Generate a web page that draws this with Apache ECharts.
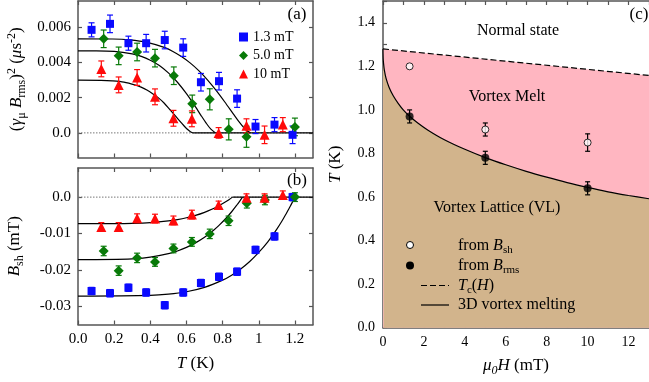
<!DOCTYPE html>
<html>
<head>
<meta charset="utf-8">
<script src="https://cdn.jsdelivr.net/npm/echarts@6/dist/echarts.min.js"></script>
<style>
html, body { margin: 0; padding: 0; background: #fff; }
#chart { width: 649px; height: 382px; }
</style>
</head>
<body>
<div id="chart"></div>
<script>
// ---- panel (a): (gamma_mu B_rms)^2 vs T ----
const tBlue = [0.075, 0.177, 0.279, 0.377, 0.48, 0.582, 0.68, 0.78, 0.88, 0.982, 1.087, 1.187]
const rmsBlue = [0.00586, 0.0062, 0.0051, 0.0051, 0.00528, 0.00485, 0.00288, 0.00294, 0.00195, 0.00036, 0.00047, -0.00011]
const rmsBlueErr = [0.0004, 0.0005, 0.0004, 0.0005, 0.0005, 0.0005, 0.0005, 0.0005, 0.0005, 0.0004, 0.0004, 0.0005]
const tGreenA = [0.142, 0.225, 0.327, 0.426, 0.53, 0.632, 0.729, 0.834, 0.932, 1.2]
const rmsGreen = [0.00535, 0.00438, 0.0046, 0.00425, 0.00325, 0.00165, 0.00191, 0.0002, -0.00022, 0.00034]
const rmsGreenErr = [0.0005, 0.0005, 0.0005, 0.0005, 0.0005, 0.0005, 0.0006, 0.0006, 0.0006, 0.0005]
const tRed = [0.129, 0.225, 0.327, 0.426, 0.528, 0.63, 0.778, 0.932, 1.032, 1.133]
const rmsRed = [0.00364, 0.00273, 0.00315, 0.00205, 0.00083, 0.0008, 0.0, 0.0004, -0.00011, 0.00047]
const rmsRedErr = [0.00045, 0.00045, 0.00045, 0.00045, 0.00045, 0.00045, 0.0003, 0.0004, 0.0005, 0.0004]

// fit curves (a)
const fitAtBlue = [0, 0.191, 0.286, 0.382, 0.477, 0.525, 0.572, 0.62, 0.668, 0.716, 0.763, 0.811, 0.859, 0.887, 0.916, 0.935, 0.954]
const fitAblue = [0.00535, 0.00534, 0.00529, 0.00515, 0.00486, 0.00463, 0.00434, 0.00398, 0.00354, 0.00302, 0.00243, 0.00177, 0.00108, 0.00068, 0.00031, 0.00012, 0]
const fitAtGreen = [0, 0.1, 0.2, 0.3, 0.35, 0.4, 0.45, 0.5, 0.55, 0.6, 0.65, 0.68, 0.71, 0.735, 0.76]
const fitAgreen = [0.00466, 0.00466, 0.00463, 0.00449, 0.00435, 0.00413, 0.00383, 0.00341, 0.00288, 0.00223, 0.00148, 0.001, 0.00054, 0.00021, 0]
const fitAtRed = [0, 0.127, 0.19, 0.254, 0.318, 0.349, 0.381, 0.413, 0.445, 0.476, 0.508, 0.54, 0.572, 0.591, 0.61, 0.622, 0.635]
const fitAred = [0.003, 0.00299, 0.00296, 0.00289, 0.00272, 0.0026, 0.00244, 0.00223, 0.00199, 0.0017, 0.00133, 0.00095, 0.00057, 0.00035, 0.00016, 0.00006, 0]

// ---- panel (b): B_sh vs T ----
const tGreenB = [0.142, 0.225, 0.327, 0.426, 0.528, 0.63, 0.729, 0.833, 0.934, 1.034, 1.2]
const shBlue = [-0.0258, -0.0264, -0.0249, -0.0262, -0.0297, -0.0262, -0.0236, -0.0219, -0.0205, -0.0145, -0.0108, 0.0]
const shBlueErr = [0.001, 0.001, 0.001, 0.001, 0.001, 0.001, 0.001, 0.001, 0.001, 0.001, 0.001, 0.001]
const shGreen = [-0.0148, -0.0202, -0.0167, -0.0178, -0.0141, -0.0123, -0.0101, -0.0065, -0.0017, -0.0008, 0.0]
const shGreenErr = [0.0013, 0.0013, 0.0013, 0.0012, 0.0012, 0.0012, 0.0013, 0.0013, 0.0013, 0.0013, 0.0012]
const shRed = [-0.0082, -0.0082, -0.0058, -0.0059, -0.0064, -0.0048, -0.0022, -0.0002, -0.0002, 0.0006]
const shRedErr = [0.0012, 0.0012, 0.0012, 0.0012, 0.0012, 0.0012, 0.0011, 0.0011, 0.0011, 0.0011]

// fit curves (b)
const fitBtRed = [0, 0.2, 0.3, 0.4, 0.5, 0.55, 0.6, 0.65, 0.7, 0.74, 0.78, 0.81, 0.835, 0.855]
const fitBred = [-0.0073, -0.00729, -0.00722, -0.00701, -0.00655, -0.00618, -0.00568, -0.00502, -0.00418, -0.00335, -0.00236, -0.0015, -0.0007, 0]
const fitBtGreen = [0, 0.3, 0.4, 0.5, 0.55, 0.6, 0.65, 0.7, 0.75, 0.78, 0.82, 0.85, 0.88, 0.895, 0.91]
const fitBgreen = [-0.0172, -0.01697, -0.0165, -0.01554, -0.01479, -0.01382, -0.01257, -0.01103, -0.00911, -0.00778, -0.00574, -0.00402, -0.0021, -0.00108, 0]
const fitBtBlue = [0, 0.4, 0.5, 0.6, 0.7, 0.8, 0.85, 0.9, 0.95, 1.0, 1.05, 1.1, 1.13, 1.15, 1.175, 1.2]
const fitBblue = [-0.0272, -0.027, -0.02667, -0.026, -0.0248, -0.02282, -0.02144, -0.01975, -0.01769, -0.0152, -0.01229, -0.0088, -0.00644, -0.0047, -0.00245, 0]

const zeroT = [0, 1.3]
const zeroV = [0, 0]
const zeroSolidA = [0.635, 1.3]
const zeroSolidB = [0.855, 1.3]

// ---- panel (c): phase diagram ----
const fieldPts = [1.3, 5, 10]
const tmRms = [0.97, 0.78, 0.64]
const tmRmsErr = [0.03, 0.03, 0.03]
const tmSh = [1.2, 0.91, 0.85]
const tmShErr = [0, 0.03, 0.04]
const meltH = [0, 0.01, 0.03, 0.07, 0.15, 0.3, 0.5, 0.75, 1, 1.3, 1.7, 2.2, 3, 4, 5, 6, 7, 8, 9, 10, 11, 12, 13]
const meltT = [1.28, 1.235, 1.21, 1.18, 1.145, 1.103, 1.065, 1.029, 0.999, 0.971, 0.94, 0.907, 0.863, 0.819, 0.781, 0.748, 0.718, 0.691, 0.666, 0.644, 0.624, 0.607, 0.592]
const tcH = [0, 13]
const tcT = [1.28, 1.158]

// ticks
const tTicks = [0, 0.2, 0.4, 0.6, 0.8, 1.0, 1.2]
const tTickLabels = ['0.0', '0.2', '0.4', '0.6', '0.8', '1', '1.2']
const rmsTicks = [0, 0.002, 0.004, 0.006]
const rmsTickLabels = ['0.0', '0.002', '0.004', '0.006']
const shTicks = [-0.03, -0.02, -0.01, 0]
const shTickLabels = ['-0.03', '-0.02', '-0.01', '0.0']
const hTicks = [0, 2, 4, 6, 8, 10, 12]
const hMinorTicks = [0, 1, 2, 3, 4, 5, 6, 7, 8, 9, 10, 11, 12, 13]
const cTicks = [0, 0.2, 0.4, 0.6, 0.8, 1.0, 1.2, 1.4]
const cMinorTicks = [0, 0.1, 0.2, 0.3, 0.4, 0.5, 0.6, 0.7, 0.8, 0.9, 1.0, 1.1, 1.2, 1.3, 1.4, 1.5]

const BLUE = '#0a0aff'
const GREEN = '#087a08'
const RED = '#ff0a0a'
const FONT = 'Liberation Serif'
const AXC = '#555'

const rich = {
    n: { fontFamily: FONT, fontSize: 17, lineHeight: 22, color: '#000' },
    i: { fontFamily: FONT, fontSize: 17, lineHeight: 22, fontStyle: 'italic', color: '#000' },
    s: { fontFamily: FONT, fontSize: 12, lineHeight: 12, verticalAlign: 'bottom', color: '#000' },
    si: { fontFamily: FONT, fontSize: 12, lineHeight: 12, verticalAlign: 'bottom', fontStyle: 'italic', color: '#000' },
    p: { fontFamily: FONT, fontSize: 12, lineHeight: 12, verticalAlign: 'top', color: '#000' }
}
const richC = {
    n: { fontFamily: FONT, fontSize: 16, lineHeight: 20, color: '#000' },
    i: { fontFamily: FONT, fontSize: 16, lineHeight: 20, fontStyle: 'italic', color: '#000' },
    s: { fontFamily: FONT, fontSize: 11, lineHeight: 11, verticalAlign: 'bottom', color: '#000' }
}

function pick(vals, labels) {
    return v => {
        for (let i = 0; i < vals.length; i++) if (Math.abs(vals[i] - v) < 1e-9) return labels[i]
        return ''
    }
}

function axis(opts) {
    const o = {
        type: 'value',
        gridIndex: opts.grid,
        position: opts.pos,
        min: opts.min,
        max: opts.max,
        splitLine: { show: false },
        axisLine: { show: true, onZero: false, lineStyle: { color: AXC, width: 1.5 } },
        axisTick: { show: true, inside: true, length: 4, customValues: opts.ticks, lineStyle: { color: AXC, width: 1.2 } },
        axisLabel: { show: false }
    }
    if (opts.labels) {
        o.axisLabel = {
            show: true, customValues: opts.labelVals, formatter: pick(opts.labelVals, opts.labels),
            fontFamily: FONT, fontSize: opts.fs || 15, color: '#000', margin: opts.margin || 7
        }
    }
    if (opts.name) {
        o.name = opts.name
        o.nameLocation = 'middle'
        o.nameGap = opts.gap
        o.nameTextStyle = { rich: opts.rich || rich, fontFamily: FONT }
    }
    return o
}

function pairs(xs, ys) { return xs.map((x, i) => [x, ys[i]]) }

function plainLine(xi, yi, xs, ys, style, z) {
    return {
        type: 'line', xAxisIndex: xi, yAxisIndex: yi, data: pairs(xs, ys),
        showSymbol: false, silent: true, z: z, lineStyle: style
    }
}

function fitLine(xi, yi, xs, ys) {
    const s = plainLine(xi, yi, xs, ys, { color: '#000', width: 1.2 }, 2)
    s.smooth = 0.3
    return s
}

function markers(name, xi, yi, xs, ys, color, symbol, size) {
    return {
        name, type: 'scatter', xAxisIndex: xi, yAxisIndex: yi, data: pairs(xs, ys),
        symbol, symbolSize: size, z: 4, itemStyle: { color, opacity: 1 }
    }
}

function errorBars(xi, yi, xs, ys, errs, color, cap) {
    return {
        type: 'custom', xAxisIndex: xi, yAxisIndex: yi, silent: true, z: 3,
        data: xs.map((x, i) => [x, ys[i], errs[i]]),
        renderItem(params, api) {
            const x = api.value(0), y = api.value(1), e = api.value(2)
            if (!e) return null
            const hi = api.coord([x, y + e]), lo = api.coord([x, y - e])
            const st = { stroke: color, lineWidth: 1.2 }
            return {
                type: 'group', children: [
                    { type: 'line', shape: { x1: hi[0], y1: hi[1], x2: lo[0], y2: lo[1] }, style: st },
                    { type: 'line', shape: { x1: hi[0] - cap, y1: hi[1], x2: hi[0] + cap, y2: hi[1] }, style: st },
                    { type: 'line', shape: { x1: lo[0] - cap, y1: lo[1], x2: lo[0] + cap, y2: lo[1] }, style: st }
                ]
            }
        }
    }
}

function label(text, x, y, size, r) {
    return {
        type: 'text', z: 10,
        style: { text, x, y, align: 'center', verticalAlign: 'middle', fontFamily: FONT, fontSize: size, fill: '#000', rich: r }
    }
}

const chart = echarts.init(document.getElementById('chart'), null, { renderer: 'canvas' })

const dotted = { color: '#777', width: 1, type: [1.5, 1.5] }
const solid = { color: '#000', width: 1.2 }

const option = {
    animation: false,
    backgroundColor: '#fff',
    grid: [
        { left: 78, top: 1, width: 235, height: 156.5 },
        { left: 78, top: 168, width: 235, height: 156.5 },
        { left: 383, top: 1, width: 269, height: 326.7 }
    ],
    xAxis: [
        axis({ grid: 0, pos: 'bottom', min: 0, max: 1.3, ticks: tTicks }),
        axis({ grid: 0, pos: 'top', min: 0, max: 1.3, ticks: tTicks }),
        axis({ grid: 1, pos: 'bottom', min: 0, max: 1.3, ticks: tTicks, labels: tTickLabels, labelVals: tTicks,
            name: '{i|T}{n| (K)}', gap: 28 }),
        axis({ grid: 1, pos: 'top', min: 0, max: 1.3, ticks: tTicks }),
        axis({ grid: 2, pos: 'bottom', min: 0, max: 13, ticks: hMinorTicks, labels: hTicks.map(String), labelVals: hTicks,
            fs: 14, margin: 8, name: '{i|μ}{si|0}{i|H}{n| (mT)}', gap: 27 }),
        axis({ grid: 2, pos: 'top', min: 0, max: 13, ticks: hMinorTicks })
    ],
    yAxis: [
        axis({ grid: 0, pos: 'left', min: -0.0014, max: 0.0075, ticks: rmsTicks, labels: rmsTickLabels, labelVals: rmsTicks,
            name: '{n|(}{i|γ}{s|μ}{n| }{i|B}{s|rms}{n|)}{p|2}{n| (}{i|μ}{n|s}{p|-2}{n|)}', gap: 50 }),
        axis({ grid: 0, pos: 'right', min: -0.0014, max: 0.0075, ticks: rmsTicks }),
        axis({ grid: 1, pos: 'left', min: -0.035, max: 0.008, ticks: shTicks, labels: shTickLabels, labelVals: shTicks,
            name: '{i|B}{s|sh}{n| (mT)}', gap: 52 }),
        axis({ grid: 1, pos: 'right', min: -0.035, max: 0.008, ticks: shTicks }),
        axis({ grid: 2, pos: 'left', min: 0, max: 1.5, ticks: cMinorTicks, labels: cTicks.map(v => v.toFixed(1)), labelVals: cTicks,
            fs: 14, margin: 8, name: '{i|T}{n| (K)}', gap: 36 })
    ],
    legend: {
        data: ['1.3 mT', '5.0 mT', '10 mT'],
        orient: 'vertical', left: 234, top: 25, itemWidth: 9, itemHeight: 9, itemGap: 4.5,
        textStyle: { fontFamily: FONT, fontSize: 14, color: '#000' },
        selectedMode: false
    },
    series: [
        // panel (a)
        plainLine(0, 0, zeroT, zeroV, dotted, 1),
        plainLine(0, 0, zeroSolidA, zeroV, solid, 2),
        fitLine(0, 0, fitAtBlue, fitAblue),
        fitLine(0, 0, fitAtGreen, fitAgreen),
        fitLine(0, 0, fitAtRed, fitAred),
        errorBars(0, 0, tBlue, rmsBlue, rmsBlueErr, BLUE, 3),
        errorBars(0, 0, tGreenA, rmsGreen, rmsGreenErr, GREEN, 3),
        errorBars(0, 0, tRed, rmsRed, rmsRedErr, RED, 3),
        markers('1.3 mT', 0, 0, tBlue, rmsBlue, BLUE, 'rect', 8),
        markers('5.0 mT', 0, 0, tGreenA, rmsGreen, GREEN, 'diamond', 10),
        markers('10 mT', 0, 0, tRed, rmsRed, RED, 'triangle', 10),
        // panel (b)
        plainLine(2, 2, zeroT, zeroV, dotted, 1),
        plainLine(2, 2, zeroSolidB, zeroV, solid, 2),
        fitLine(2, 2, fitBtBlue, fitBblue),
        fitLine(2, 2, fitBtGreen, fitBgreen),
        fitLine(2, 2, fitBtRed, fitBred),
        errorBars(2, 2, tBlue, shBlue, shBlueErr, BLUE, 3),
        errorBars(2, 2, tGreenB, shGreen, shGreenErr, GREEN, 3),
        errorBars(2, 2, tRed, shRed, shRedErr, RED, 3),
        markers('1.3 mT', 2, 2, tBlue, shBlue, BLUE, 'rect', 8),
        markers('5.0 mT', 2, 2, tGreenB, shGreen, GREEN, 'diamond', 10),
        markers('10 mT', 2, 2, tRed, shRed, RED, 'triangle', 10),
        // panel (c)
        {
            type: 'line', xAxisIndex: 4, yAxisIndex: 4, data: pairs(tcH, tcT), showSymbol: false, silent: true, z: 1,
            lineStyle: { color: '#000', width: 1.2, type: [6, 3] },
            areaStyle: { color: '#ffb6c1', opacity: 1, origin: 'start' }
        },
        {
            type: 'line', xAxisIndex: 4, yAxisIndex: 4, data: pairs(meltH, meltT), showSymbol: false, silent: true, z: 2,
            smooth: 0.3,
            lineStyle: { color: '#000', width: 1.2 },
            areaStyle: { color: '#d2b48c', opacity: 1, origin: 'start' }
        },
        errorBars(4, 4, fieldPts, tmRms, tmRmsErr, '#000', 2.5),
        errorBars(4, 4, fieldPts, tmSh, tmShErr, '#000', 2.5),
        {
            type: 'scatter', xAxisIndex: 4, yAxisIndex: 4, data: pairs(fieldPts, tmRms), symbol: 'circle', symbolSize: 8, z: 4,
            itemStyle: { color: '#000' }
        },
        {
            type: 'scatter', xAxisIndex: 4, yAxisIndex: 4, data: pairs(fieldPts, tmSh), symbol: 'circle', symbolSize: 7, z: 4,
            itemStyle: { color: '#fff', borderColor: '#000', borderWidth: 1 }
        }
    ],
    graphic: [
        label('(a)', 297, 15, 17),
        label('(b)', 297, 181, 17),
        label('(c)', 639, 15, 17),
        label('Normal state', 518, 31, 16),
        label('Vortex Melt', 507, 97, 16),
        label('Vortex Lattice (VL)', 497, 208, 16),
        { type: 'circle', z: 10, shape: { cx: 410, cy: 245, r: 3.5 }, style: { fill: '#fff', stroke: '#000', lineWidth: 1 } },
        { type: 'circle', z: 10, shape: { cx: 410, cy: 265.5, r: 4 }, style: { fill: '#000' } },
        { type: 'line', z: 10, shape: { x1: 421, y1: 285.5, x2: 449, y2: 285.5 }, style: { stroke: '#000', lineWidth: 1.2, lineDash: [6, 3] } },
        { type: 'line', z: 10, shape: { x1: 421, y1: 305, x2: 449, y2: 305 }, style: { stroke: '#000', lineWidth: 1.2 } },
        { type: 'text', z: 10, style: { text: '{n|from }{i|B}{s|sh}', x: 458, y: 246, verticalAlign: 'middle', rich: richC } },
        { type: 'text', z: 10, style: { text: '{n|from }{i|B}{s|rms}', x: 458, y: 266, verticalAlign: 'middle', rich: richC } },
        { type: 'text', z: 10, style: { text: '{i|T}{s|c}{n|(}{i|H}{n|)}', x: 458, y: 285.5, verticalAlign: 'middle', rich: richC } },
        { type: 'text', z: 10, style: { text: '{n|3D vortex melting}', x: 458, y: 305, verticalAlign: 'middle', rich: richC } }
    ]
}

chart.setOption(option)
</script>
</body>
</html>
